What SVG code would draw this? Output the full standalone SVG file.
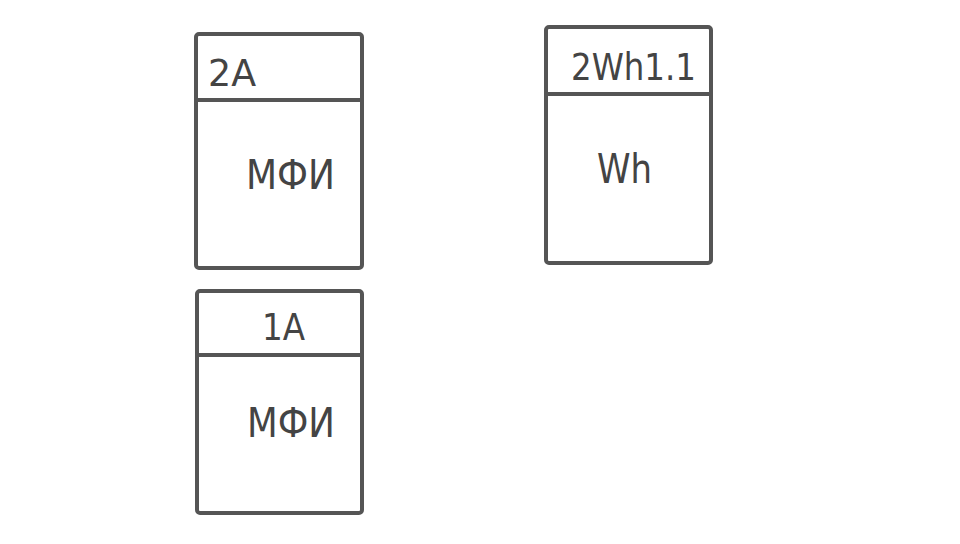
<svg xmlns="http://www.w3.org/2000/svg" width="960" height="544" viewBox="0 0 960 544">
<style>
.box{fill:#fff;stroke:#555;stroke-width:4;}
.div{stroke:#555;stroke-width:4;}
.t{font-family:"DejaVu Sans Condensed","DejaVu Sans",sans-serif;font-size:37px;fill:#444;}
.b{font-size:41px;}
</style>
<rect width="960" height="544" fill="#fff"/>
<g id="node-2A">
<rect class="box" x="196" y="34" width="166" height="234" rx="3"/>
<line class="div" x1="196" y1="100" x2="362" y2="100"/>
<text class="t" x="208" y="86" textLength="48" lengthAdjust="spacingAndGlyphs">2A</text>
<text class="t b" x="246" y="189" textLength="89" lengthAdjust="spacingAndGlyphs">МФИ</text>
</g>
<g id="node-2Wh1.1">
<rect class="box" x="546" y="27" width="165" height="236" rx="3"/>
<line class="div" x1="546" y1="94" x2="711" y2="94"/>
<text class="t" x="571" y="80" textLength="125" lengthAdjust="spacingAndGlyphs">2Wh1.1</text>
<text class="t b" x="597" y="183" textLength="55" lengthAdjust="spacingAndGlyphs">Wh</text>
</g>
<g id="node-1A">
<rect class="box" x="197" y="291" width="165" height="222" rx="3"/>
<line class="div" x1="197" y1="355" x2="362" y2="355"/>
<text class="t" x="262" y="340" textLength="43" lengthAdjust="spacingAndGlyphs">1A</text>
<text class="t b" x="247" y="437" textLength="88" lengthAdjust="spacingAndGlyphs">МФИ</text>
</g>
<g id="connectors"/>
</svg>
